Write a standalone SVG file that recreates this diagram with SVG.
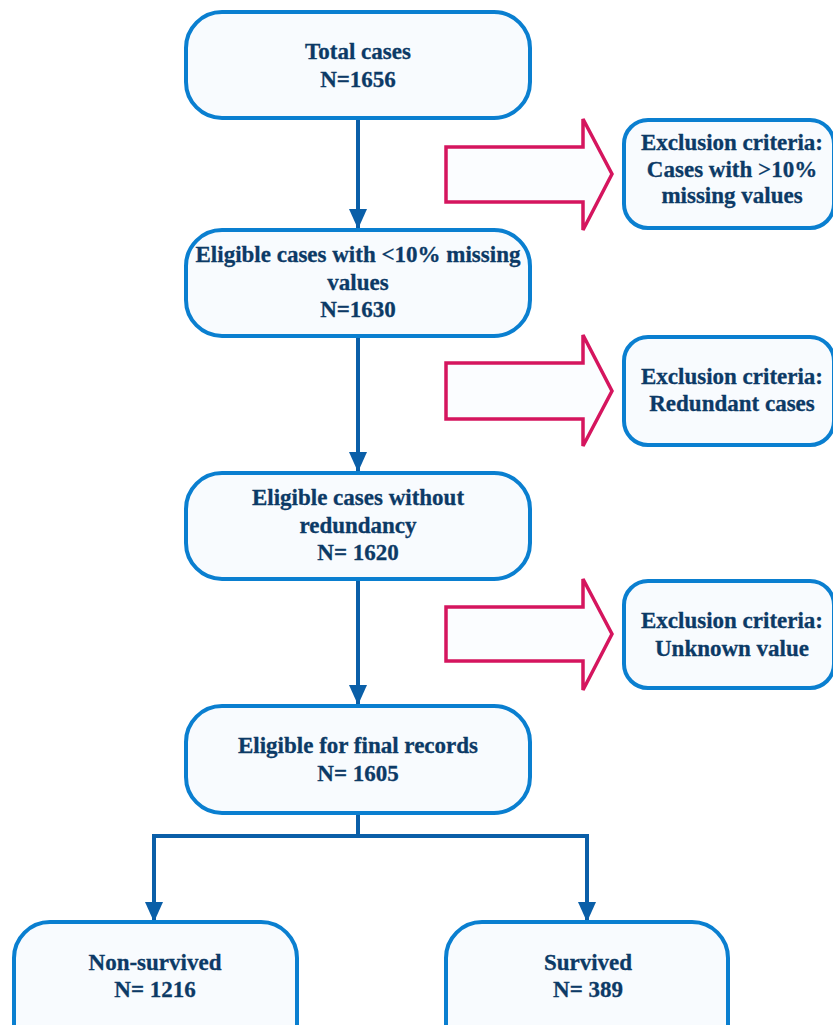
<svg xmlns="http://www.w3.org/2000/svg" width="833" height="1025" viewBox="0 0 833 1025">
<defs>
<style>
.box{fill:#f8fbfe;stroke:#0a7fd0;stroke-width:4}
.ex{fill:#f8fbfe;stroke:#0a7fd0;stroke-width:4}
.t{font-family:'Liberation Serif','Times New Roman',serif;font-weight:bold;font-size:23px;fill:#0c3a66;stroke:#0c3a66;stroke-width:0.3;text-anchor:middle}
.c{fill:none;stroke:#0a5fa8;stroke-width:4}
.ra{fill:#fbfdff;stroke:#d5155e;stroke-width:3.5;stroke-linejoin:miter}
</style>
<marker id="ah" markerUnits="userSpaceOnUse" markerWidth="20" markerHeight="20" viewBox="0 0 20 20" refX="20" refY="10" orient="auto">
<path d="M0,1 L20,10 L0,19 Z" fill="#0a5fa8"/>
</marker>
</defs>
<rect width="833" height="1025" fill="#ffffff"/>

<g id="connectors">
<line class="c" x1="358" y1="118" x2="358" y2="229" marker-end="url(#ah)"/>
<line class="c" x1="358" y1="336" x2="358" y2="472" marker-end="url(#ah)"/>
<line class="c" x1="358" y1="579" x2="358" y2="705" marker-end="url(#ah)"/>
<polyline class="c" points="358,814 358,836"/>
<polyline class="c" points="154,836 587,836"/>
<line class="c" x1="154" y1="834" x2="154" y2="922" marker-end="url(#ah)"/>
<line class="c" x1="587" y1="834" x2="587" y2="922" marker-end="url(#ah)"/>
</g>

<g id="arrow1"><polygon class="ra" points="446,147 583,147 583,119 612,174 583,230 583,202 446,202"/></g>
<g id="arrow2"><polygon class="ra" points="446,363 583,363 583,335 612,391 583,446 583,419 446,419"/></g>
<g id="arrow3"><polygon class="ra" points="446,607 583,607 583,579 612,634 583,690 583,661 446,661"/></g>

<g id="n1">
<rect class="box" x="186" y="12" width="344" height="106" rx="36"/>
<text class="t" x="358" y="59">Total cases</text>
<text class="t" x="358" y="87">N=1656</text>
</g>
<g id="n2">
<rect class="box" x="186" y="230" width="344" height="106" rx="36"/>
<text class="t" x="358" y="262">Eligible cases with &lt;10% missing</text>
<text class="t" x="358" y="290">values</text>
<text class="t" x="358" y="317">N=1630</text>
</g>
<g id="n3">
<rect class="box" x="186" y="473" width="344" height="106" rx="36"/>
<text class="t" x="358" y="505">Eligible cases without</text>
<text class="t" x="358" y="533">redundancy</text>
<text class="t" x="358" y="560">N= 1620</text>
</g>
<g id="n4">
<rect class="box" x="186" y="706" width="344" height="107" rx="36"/>
<text class="t" x="358" y="753">Eligible for final records</text>
<text class="t" x="358" y="781">N= 1605</text>
</g>

<g id="e1">
<rect class="ex" x="624" y="120" width="210" height="108" rx="24"/>
<text class="t" x="732" y="150">Exclusion criteria:</text>
<text class="t" x="732" y="177">Cases with &gt;10%</text>
<text class="t" x="732" y="203">missing values</text>
</g>
<g id="e2">
<rect class="ex" x="624" y="337" width="210" height="108" rx="24"/>
<text class="t" x="732" y="384">Exclusion criteria:</text>
<text class="t" x="732" y="411">Redundant cases</text>
</g>
<g id="e3">
<rect class="ex" x="624" y="581" width="210" height="107" rx="24"/>
<text class="t" x="732" y="628">Exclusion criteria:</text>
<text class="t" x="732" y="656">Unknown value</text>
</g>

<g id="n5">
<rect class="box" x="14" y="922" width="283" height="140" rx="36"/>
<text class="t" x="155" y="970">Non-survived</text>
<text class="t" x="155" y="997">N= 1216</text>
</g>
<g id="n6">
<rect class="box" x="446" y="922" width="282" height="140" rx="36"/>
<text class="t" x="588" y="970">Survived</text>
<text class="t" x="588" y="997">N= 389</text>
</g>
</svg>
